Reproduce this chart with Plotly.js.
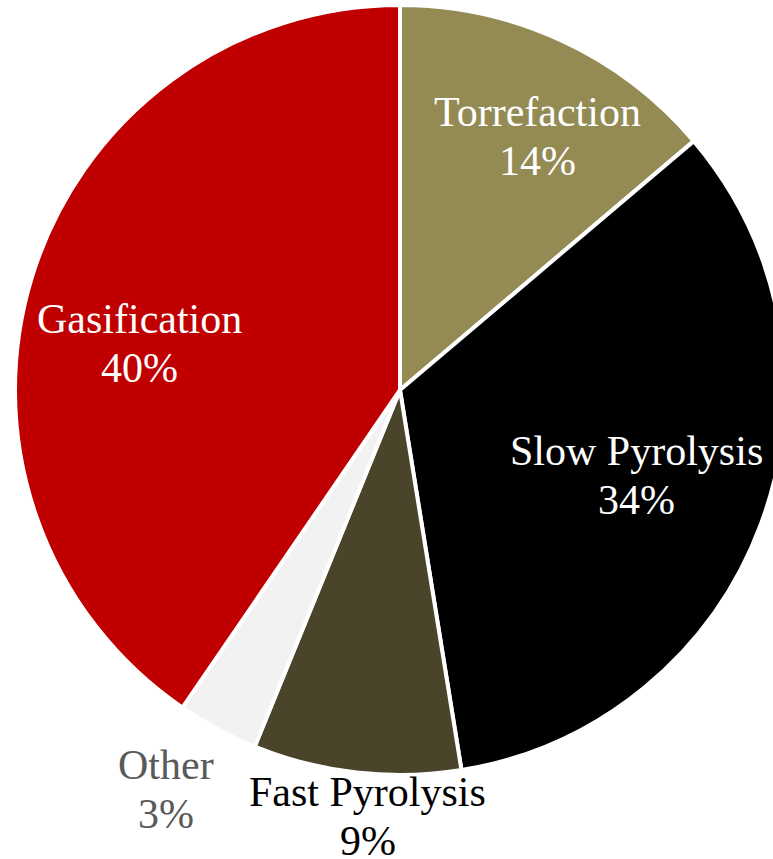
<!DOCTYPE html>
<html>
<head>
<meta charset="utf-8">
<script src="https://cdn.plot.ly/plotly-3.0.1.min.js"></script>
<style>
html,body{margin:0;padding:0;background:#fff;overflow:hidden;}
#chart{width:800px;height:859px;}
</style>
</head>
<body>
<div id="chart"></div>
<script>
const labels = ["Torrefaction", "Slow Pyrolysis", "Fast Pyrolysis", "Other", "Gasification"];
const values = [13.8, 33.6, 8.7, 3.4, 40.4];
const colors = ["#948A54", "#000000", "#4A452A", "#F2F2F2", "#C00000"];
const textColors = ["#FFFFFF", "#FFFFFF", "#000000", "#595959", "#FFFFFF"];
// label placement style (relative to each slice's mid angle): radius as a fraction of pie radius, angle nudge in degrees
const labelRadius = [0.718, 0.665, 1.147, 1.235, 0.683];
const labelAngleNudge = [5.0, 2.5, -2.3, 1.2, -10.1];

const W = 800, H = 859;
const cx = 400, cy = 390, R = 385;
const FONT = "Liberation Serif, Times New Roman, serif";
const FS = 42, LINE_GAP = 49;

const trace = {
  type: "pie",
  labels: labels,
  values: values,
  sort: false,
  direction: "clockwise",
  rotation: 0,
  marker: {colors: colors, line: {color: "#FFFFFF", width: 4}},
  textinfo: "none",
  hoverinfo: "none",
  automargin: false,
  domain: {x: [(cx - R) / W, (cx + R) / W], y: [1 - (cy + R) / H, 1 - (cy - R) / H]}
};

const total = values.reduce((a, b) => a + b, 0);
const annotations = [];
let cum = 0;
values.forEach((v, i) => {
  const midFrac = (cum + v / 2) / total;
  cum += v;
  const ang = (midFrac * 360 + labelAngleNudge[i]) * Math.PI / 180;
  const r = labelRadius[i] * R;
  const px = cx + r * Math.sin(ang);
  const py = cy - r * Math.cos(ang);
  const pct = Math.round(v / total * 100) + "%";
  const lines = [labels[i], pct];
  lines.forEach((t, k) => {
    const baseline = py + (k === 0 ? -LINE_GAP / 2 : LINE_GAP / 2);
    const mid = baseline - 14;
    annotations.push({
      x: px / W, y: 1 - mid / H, xref: "paper", yref: "paper",
      xanchor: "center", yanchor: "middle", showarrow: false,
      text: t, font: {family: FONT, size: FS, color: textColors[i]}
    });
  });
});

const layout = {
  width: W, height: H,
  margin: {l: 0, r: 0, t: 0, b: 0},
  showlegend: false,
  paper_bgcolor: "#FFFFFF",
  font: {family: FONT},
  annotations: annotations
};

Plotly.newPlot("chart", [trace], layout, {staticPlot: true});
</script>
</body>
</html>
